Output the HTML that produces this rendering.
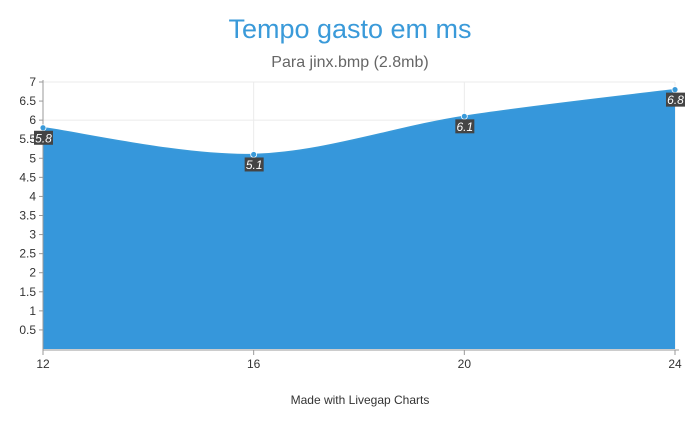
<!DOCTYPE html>
<html><head><meta charset="utf-8"><style>
body{margin:0;background:#fff;font-family:"Liberation Sans",sans-serif}
</style></head><body>
<svg width="700" height="420" xmlns="http://www.w3.org/2000/svg">
<text x="350" y="38" text-anchor="middle" font-size="27" fill="#3a9ad9">Tempo gasto em ms</text>
<text x="350" y="67" text-anchor="middle" font-size="16" fill="#666">Para jinx.bmp (2.8mb)</text>
<g id="grid"></g><g id="area"></g><g id="axes"></g><g id="marks"></g>
<text x="360" y="404" text-anchor="middle" font-size="12" fill="#333">Made with Livegap Charts</text>
</svg>
<script>
const categories=[12,16,20,24];
const values=[5.8,5.1,6.1,6.8];
const yTicks=[0.5,1,1.5,2,2.5,3,3.5,4,4.5,5,5.5,6,6.5,7];
const NS="http://www.w3.org/2000/svg";
const x0=43,x1=675,yBase=349,yTop=82;
const xs=v=>x0+(v-12)/(24-12)*(x1-x0);
const ys=v=>yBase-v/7*(yBase-yTop);
function mk(t,a,p){const e=document.createElementNS(NS,t);for(const k in a)e.setAttribute(k,a[k]);document.getElementById(p).appendChild(e);return e;}
// grid
for(let v=1;v<=7;v++){const g=mk('line',{x1:x0,x2:x1,y1:ys(v),y2:ys(v),stroke:'#ebebeb'},'grid');

}
categories.forEach(c=>{const g=mk('line',{x1:xs(c),x2:xs(c),y1:yTop,y2:yBase,stroke:'#ebebeb'},'grid');

});
// area
const P=categories.map((c,i)=>[xs(c),ys(values[i])]);
let d=`M${P[0][0]},${P[0][1]}`;
for(let i=0;i<P.length-1;i++){const p0=P[Math.max(0,i-1)],p1=P[i],p2=P[i+1],p3=P[Math.min(P.length-1,i+2)];const t=0.5/3*2;
d+=` C${p1[0]+(p2[0]-p0[0])*t/2},${p1[1]+(p2[1]-p0[1])*t/2} ${p2[0]-(p3[0]-p1[0])*t/2},${p2[1]-(p3[1]-p1[1])*t/2} ${p2[0]},${p2[1]}`;}
const a=mk('path',{d:d+` L${P[P.length-1][0]},${yBase} L${P[0][0]},${yBase} Z`,fill:'#3697db'},'area');


const ln=mk('path',{d:d,fill:'none',stroke:'#3a9ad9','stroke-width':1.5},'area');


// axes
const ya=mk('line',{x1:x0,x2:x0,y1:yTop-2,y2:yBase+1,stroke:'#999'},'axes');


const xa=mk('line',{x1:x0,x2:x1+4,y1:yBase+1,y2:yBase+1,stroke:'#999'},'axes');


yTicks.forEach(v=>{const t=mk('line',{x1:x0-4,x2:x0,y1:ys(v),y2:ys(v),stroke:'#999'},'axes');


const l=mk('text',{x:x0-7,y:ys(v)+4,'text-anchor':'end','font-size':12,fill:'#333'},'axes');l.textContent=v;

});
categories.forEach(c=>{const t=mk('line',{x1:xs(c),x2:xs(c),y1:yBase+1,y2:yBase+6,stroke:'#999'},'axes');


const l=mk('text',{x:xs(c),y:yBase+19,'text-anchor':'middle','font-size':12,fill:'#333'},'axes');l.textContent=c;

});
// points & labels
P.forEach((p,i)=>{const c=mk('circle',{cx:p[0],cy:p[1],r:3,fill:'#3a9ad9',stroke:'#fff','stroke-width':0.8},'marks');


const r=mk('rect',{x:p[0]-9,y:p[1]+3,width:19,height:14,fill:'#444'},'marks');


const t=mk('text',{x:p[0]+0.5,y:p[1]+14.5,'text-anchor':'middle','font-size':12,'font-style':'italic',fill:'#fff'},'marks');t.textContent=values[i];

});
</script>
</body></html>
